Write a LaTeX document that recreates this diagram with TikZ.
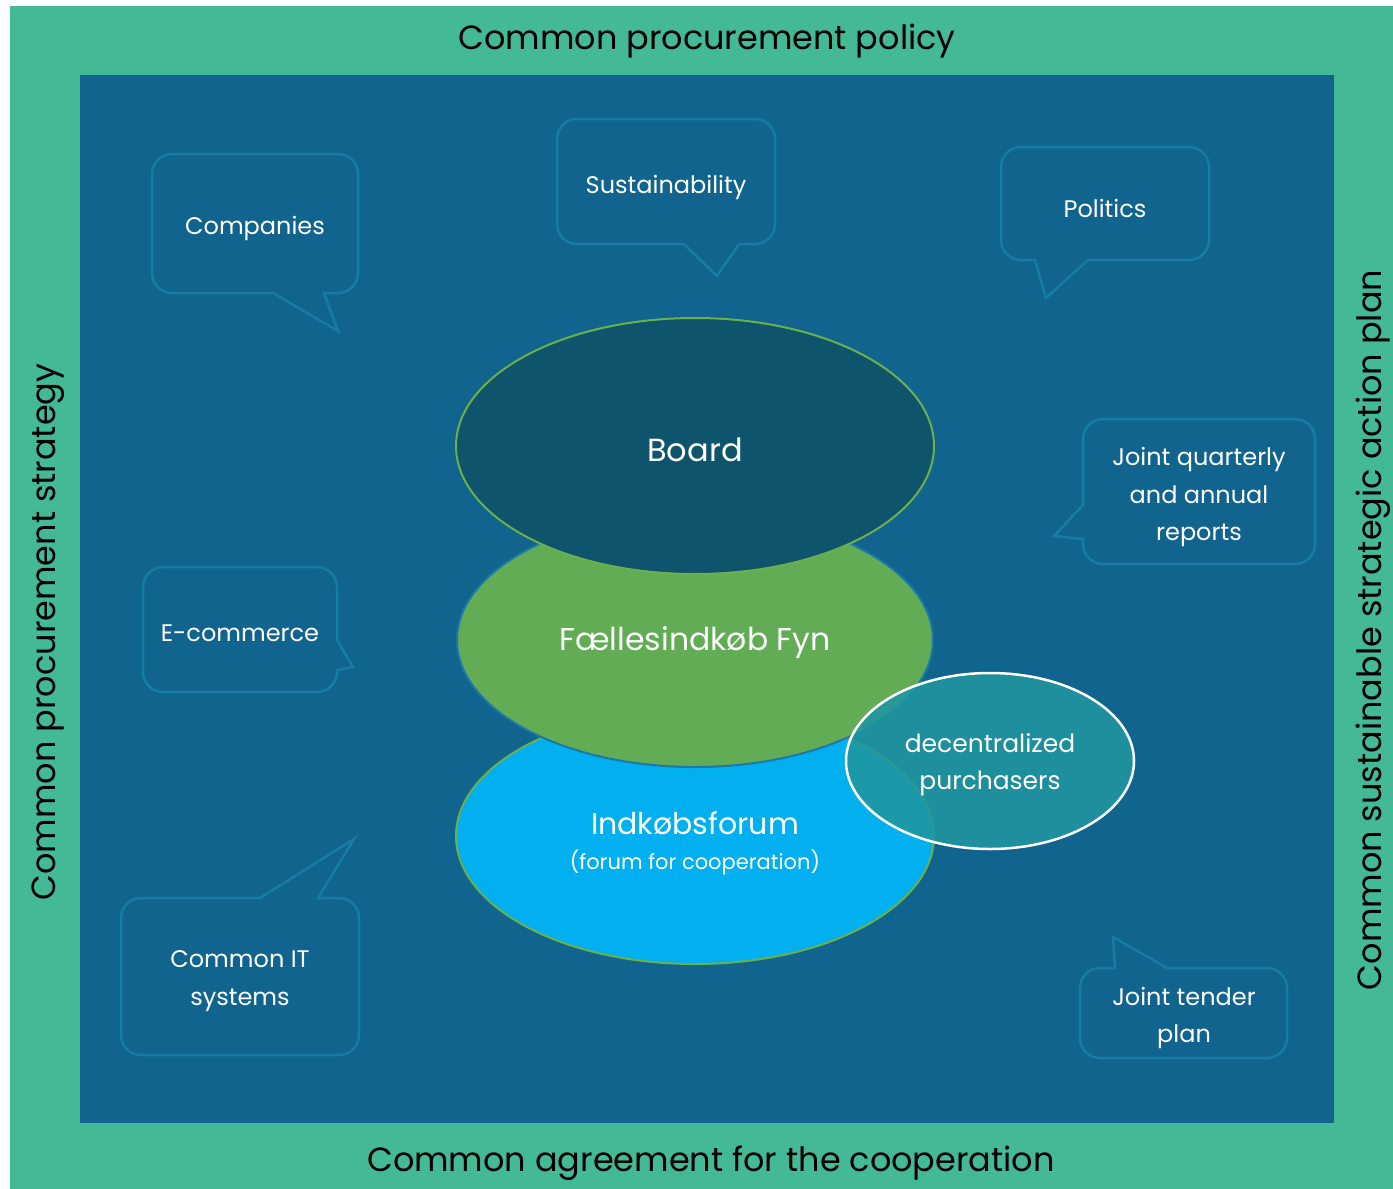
\documentclass[tikz,border=0pt]{standalone}
\usepackage{fontspec}
\setmainfont{Poppins}
\usetikzlibrary{shapes.geometric}
\definecolor{framegreen}{RGB}{68,185,149}
\definecolor{bluebg}{RGB}{17,100,142}
\definecolor{bubline}{RGB}{22,124,166}
\definecolor{boardfill}{RGB}{15,84,109}
\definecolor{ringgreen}{RGB}{106,176,76}
\definecolor{fyngreen}{RGB}{98,172,85}
\definecolor{fynline}{RGB}{28,120,170}
\definecolor{forumblue}{RGB}{2,176,240}
\definecolor{decfill}{RGB}{32,150,160}
\tikzset{
  bub/.style={draw=bubline, line width=2.5pt, rounded corners=20pt},
  lbl/.style={text=white, font=\fontsize{24}{37.5}\selectfont, align=center, inner sep=0pt},
  frametxt/.style={text=black, font=\fontsize{33.5}{40}\selectfont, inner sep=0pt},
  oval/.style={ellipse, line width=2pt, inner sep=0pt}
}
\begin{document}
\begin{tikzpicture}[x=1pt,y=-1pt]
\useasboundingbox (0,0) rectangle (1393,1189);
\fill[white] (0,0) rectangle (1393,1189);
\fill[framegreen] (10,6) rectangle (1393,1189);
\fill[bluebg] (80,75) rectangle (1334,1123);

% frame texts
\node[frametxt] (top) at (707,41) {Common procurement policy};
\node[frametxt] (bottom) at (711,1163) {Common agreement for the cooperation};
\node[frametxt, rotate=90] (left) at (48,632) {Common procurement strategy};
\node[frametxt, rotate=90] (right) at (1373,630) {Common sustainable strategic action plan};

% speech bubbles
\draw[bub] (255,154) -- (358,154) -- (358,293) [sharp corners] -- (324,293) -- (338,331) -- (273,293) [rounded corners=20pt] -- (152,293) -- (152,154) -- cycle;
\node[lbl] (companies) at (255,228) {Companies};

\draw[bub] (665,119) -- (775,119) -- (775,244) [sharp corners] -- (739,244) -- (717,276) -- (684,244) [rounded corners=20pt] -- (557,244) -- (557,119) -- cycle;
\node[lbl] (sustain) at (666,187) {Sustainability};

\draw[bub] (1105,147) -- (1209,147) -- (1209,260) [sharp corners] -- (1088,260) -- (1046,298) -- (1035,260) [rounded corners=20pt] -- (1001,260) -- (1001,147) -- cycle;
\node[lbl] (politics) at (1105,208) {Politics};

\draw[bub] (1199,419) -- (1315,419) -- (1315,564) -- (1083,564) [sharp corners] -- (1083,539) -- (1054,536) -- (1083,505) [rounded corners=20pt] -- (1083,419) -- cycle;
\node[lbl] (reports) at (1199,497) {Joint quarterly\\and annual\\reports};

\draw[bub] (240,567) -- (337,567) [sharp corners] -- (337,640) -- (353,667) -- (337,670) [rounded corners=20pt] -- (337,692) -- (143,692) -- (143,567) -- cycle;
\node[lbl] (ecommerce) at (240,633) {E-commerce};

\draw[bub] (240,898) [sharp corners] -- (260,898) -- (354,839) -- (318,898) [rounded corners=20pt] -- (359,898) -- (359,1055) -- (121,1055) -- (121,898) -- cycle;
\node[lbl] (itsys) at (240,981) {Common IT\\systems};

\draw[bub] (1184,1058) -- (1080,1058) -- (1080,968) [sharp corners] -- (1115,968) -- (1113,937) -- (1167,968) [rounded corners=20pt] -- (1287,968) -- (1287,1058) -- cycle;
\node[lbl] (tender) at (1184,1018) {Joint tender\\plan};

% ellipses
\node[oval, fill=forumblue, draw=ringgreen, minimum width=478pt, minimum height=256pt] (forum) at (695,836) {};
\node[oval, fill=fyngreen, draw=fynline, minimum width=476pt, minimum height=254pt] (fyn) at (695,640) {};
\node[oval, fill=boardfill, draw=ringgreen, minimum width=478pt, minimum height=256pt] (board) at (695,446) {};

\node[text=white, font=\fontsize{32}{36}\selectfont, inner sep=0pt] (boardtxt) at (695,450) {Board};
\node[text=white, font=\fontsize{31.5}{36}\selectfont, inner sep=0pt] (fyntxt) at (695,643) {Fællesindkøb Fyn};
\node[text=white, font=\fontsize{30}{34}\selectfont, inner sep=0pt] (forumtxt) at (695,823) {Indkøbsforum};
\node[text=white, font=\fontsize{21}{26}\selectfont, inner sep=0pt] (forumsub) at (695,862) {(forum for cooperation)};

\node[oval, fill=decfill, fill opacity=0.88, draw=white, line width=2.5pt, minimum width=288pt, minimum height=176pt] (dec) at (990,761) {};
\node[lbl, font=\fontsize{25}{37}\selectfont] (dectxt) at (990,765) {decentralized\\purchasers};
\end{tikzpicture}
\end{document}
